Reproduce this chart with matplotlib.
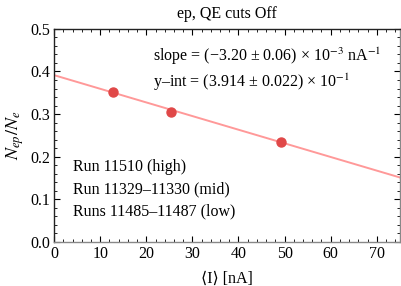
import numpy as np
import matplotlib
matplotlib.use("Agg")
import matplotlib.pyplot as plt
from matplotlib.ticker import MultipleLocator, FormatStrFormatter

# data
current = [12.7, 25.3, 49.2]        # <I> [nA]
ratio = [0.352, 0.305, 0.235]       # N_ep / N_e
fit_slope = -3.20e-3
fit_intercept = 0.3914
run_labels = ["Run 11510 (high)", "Run 11329\u201311330 (mid)", "Runs 11485\u201311487 (low)"]

plt.rcParams["font.family"] = ["Liberation Serif", "DejaVu Serif"]
plt.rcParams["mathtext.fontset"] = "stix"

fig = plt.figure(figsize=(4.01, 2.86), dpi=100)
ax = fig.add_axes([0.135, 0.154, 0.862, 0.745])

# fit line + measured points
ax.axline((0, fit_intercept), slope=fit_slope, color="#ff9999", lw=1.4, zorder=2)
ax.plot(current, ratio, "o", color="#e04848", ms=6.5, zorder=3)

ax.set_xlim(0, 75)
ax.set_ylim(0, 0.5)
ax.xaxis.set_major_locator(MultipleLocator(10))
ax.xaxis.set_minor_locator(MultipleLocator(2))
ax.yaxis.set_major_locator(MultipleLocator(0.1))
ax.yaxis.set_minor_locator(MultipleLocator(0.02))
ax.yaxis.set_major_formatter(FormatStrFormatter("%.1f"))
ax.tick_params(which="both", direction="in", top=True, right=True, labelsize=11.5, pad=3)
ax.tick_params(which="major", length=4, width=0.8)
ax.tick_params(which="minor", length=2, width=0.6)

# Mathematica-like frame
ax.spines["left"].set_color("#222222")
ax.spines["top"].set_color("#222222")
ax.spines["bottom"].set_color("#888888")
ax.spines["right"].set_color("#888888")
for s in ax.spines.values():
    s.set_linewidth(1.0)

ax.set_title("ep, QE cuts Off", fontsize=11.5, pad=8)
ax.set_xlabel("\u27e8I\u27e9 [nA]", fontsize=11.5, labelpad=6)
ax.set_ylabel("$N_{ep}/N_e$", fontsize=13, labelpad=3)

ax.text(0.285, 0.87, "slope = (\u22123.20 \u00b1 0.06) \u00d7 10$^{-3}$ nA$^{-1}$",
        transform=ax.transAxes, fontsize=11.5, va="center")
ax.text(0.285, 0.75, "y\u2013int = (3.914 \u00b1 0.022) \u00d7 10$^{-1}$",
        transform=ax.transAxes, fontsize=11.5, va="center")

for i, lab in enumerate(run_labels):
    ax.text(0.055, 0.352 - i * 0.105, lab, transform=ax.transAxes,
            fontsize=11.5, va="center")

fig.savefig("out.png", dpi=100)
